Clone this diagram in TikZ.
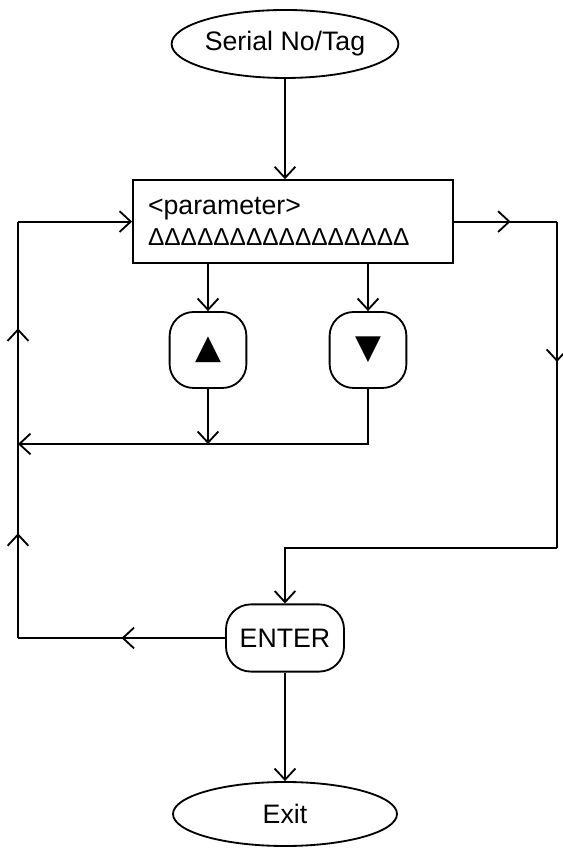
\documentclass[tikz,border=0pt]{standalone}
\usepackage{fontspec}
\setmainfont{Liberation Sans}
\newfontfamily\symfont{DejaVu Sans}
\usetikzlibrary{arrows.meta, positioning, shapes.geometric, calc, decorations.markings}
\tikzset{
  every picture/.style={line width=1.3pt, font=\fontsize{19}{23}\selectfont},
  tip/.style={-{Straight Barb[length=2.8mm, width=5.2mm]}},
  midarrow/.style={postaction={decorate}, decoration={markings,
      mark=at position #1 with {\arrow{Straight Barb[length=2.8mm, width=5.2mm]}}}},
  midarrow/.default=0.5,
  term/.style={draw, ellipse, minimum width=5.5cm, minimum height=1.7cm, inner sep=0pt},
  panel/.style={draw, rectangle, minimum width=8cm, minimum height=2.07cm, text width=7.25cm,
      inner xsep=0.375cm, align=left},
  key/.style={draw, rectangle, rounded corners=0.6cm, minimum width=1.92cm, minimum height=1.9cm,
      inner sep=0pt, font=\symfont\fontsize{24}{24}\selectfont},
  enterkey/.style={draw, rectangle, rounded corners=0.62cm,
      minimum width=2.95cm, minimum height=1.68cm, inner sep=0pt},
}

\begin{document}
\begin{tikzpicture}
  \useasboundingbox (0,0) rectangle (14.05,21.2);
  % nodes
  \node[term] (serial) at (7.125,20.1) {Serial No/Tag};
  \node[panel] (display) at (7.325,15.66) {<parameter>\\[-1pt]{\fontsize{17.4}{20}\selectfont ΔΔΔΔΔΔΔΔΔΔΔΔΔΔΔΔ}};
  \node[key] (up) at (5.2,12.45) {▲};
  \node[key] (down) at (9.2,12.45) {▼};
  \node[enterkey] (enter) at (7.125,5.25) {ENTER};
  \node[term, minimum width=5.6cm, minimum height=1.6cm] (exit) at (7.125,0.85) {Exit};
  % corners of the loops
  \coordinate (join) at (0.45,10.1);
  \coordinate (rbot) at (13.925,7.5);
  \coordinate (lbot) at (join |- enter.west);
  \coordinate (ltop) at (join |- display.west);
  \coordinate (rtop) at (rbot |- display.east);
  % connectors
  \draw[tip] (serial.south) -- (serial.south |- display.north);
  \draw[tip] (up |- display.south) -- (up.north);
  \draw[tip] (down |- display.south) -- (down.north);
  \draw[tip] (up.south) -- (up |- join);
  \draw[tip] (down.south) |- (join);
  \draw[midarrow] (enter.west) -- (lbot);
  \draw[midarrow=0.54] (lbot) -- (join);
  \draw[midarrow=0.52] (join) -- (ltop);
  \draw[tip] (ltop) -- (display.west);
  \draw[midarrow=0.55] (display.east) -- (rtop);
  \draw[midarrow=0.43] (rtop) -- (rbot);
  \draw[tip] (rbot) -| (enter.north);
  \draw[tip] (enter.south) -- (exit.north);
\end{tikzpicture}
\end{document}
